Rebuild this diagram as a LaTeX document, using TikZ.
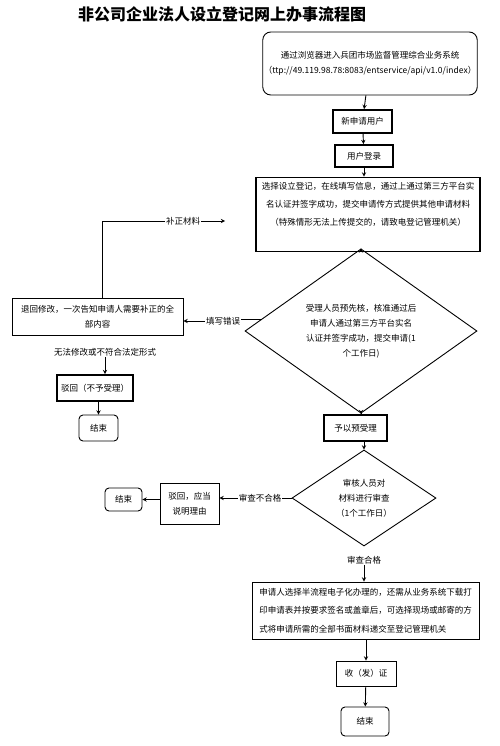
\documentclass[tikz,border=0pt]{standalone}
\usepackage{fontspec}
\setmainfont{Noto Sans CJK SC}
\usetikzlibrary{shapes.geometric,calc}
\tikzset{
    box/.style={draw,line width=0.9pt,align=center,inner sep=1pt,font=\fontsize{8.5}{15}\selectfont},
    thickbox/.style={box,line width=1.8pt},
    roundbox/.style={box,rounded corners=4pt},
    decision/.style={draw,diamond,line width=0.9pt,align=center,inner sep=0pt,font=\fontsize{8.5}{15}\selectfont},
    lbl/.style={inner sep=1pt,font=\fontsize{8.5}{15}\selectfont},
    flow/.style={line width=0.9pt,->,>=stealth}
}
\begin{document}
\begin{tikzpicture}[x=1pt,y=-1pt]
                \useasboundingbox (0,0) rectangle (500,746);
                \node[font=\fontsize{16}{16}\selectfont\bfseries] (title) at (222,14) {非公司企业法人设立登记网上办事流程图};
                % main column
                \node[box,rounded corners=8pt,minimum width=196pt,minimum height=63pt] (b1) at (370,63.5)
                    {通过浏览器进入兵团市场监督管理综合业务系统\\（ttp://49.119.98.78:8083/entservice/api/v1.0/index）};
                \node[thickbox,minimum width=59pt,minimum height=23pt] (b2) at (362.5,121.5) {新申请用户};
                \node[thickbox,minimum width=58pt,minimum height=22pt] (b3) at (364,156) {用户登录};
                \node[thickbox,minimum width=224pt,minimum height=74pt,font=\fontsize{8.5}{18}\selectfont] (b4) at (368,214.5)
                    {选择设立登记，在线填写信息，通过上通过第三方平台实\\名认证并签字成功，提交申请传方式提供其他申请材料\\（特殊情形无法上传提交的，请致电登记管理机关）\\[4pt]};
                \node[decision,minimum width=232pt,minimum height=142pt] (d1) at (361,331)
                    {受理人员预先核，核准通过后\\申请人通过第三方平台实名\\认证并签字成功，提交申请(1\\个工作日)};
                \node[thickbox,minimum width=63pt,minimum height=26pt] (ys) at (355.5,428) {予以预受理};
                \node[decision,minimum width=144pt,minimum height=96pt] (d2) at (364,498)
                    {审核人员对\\材料进行审查\\（1个工作日）};
                \node[lbl] (hg) at (364,560) {审查合格};
                \node[box,minimum width=227pt,minimum height=57pt,align=left,font=\fontsize{8.5}{18.5}\selectfont] (b5) at (365.5,610.5)
                    {申请人选择半流程电子化办理的，还需从业务系统下载打\\印申请表并按要求签名或盖章后，可选择现场或邮寄的方\\式将申请所需的全部书面材料递交至登记管理机关};
                \node[box,minimum width=60pt,minimum height=25pt] (fz) at (366,673.5) {收（发）证};
                \node[roundbox,minimum width=48pt,minimum height=29pt] (e3) at (365,721.5) {结束};
                % left branches
                \node[box,minimum width=171pt,minimum height=37pt] (lb) at (97.5,316.5)
                    {退回修改，一次告知申请人需要补正的全\\部内容};
                \node[lbl] (bz) at (183,221) {补正材料};
                \node[lbl] (tx) at (223,321) {填写错误};
                \node[lbl] (fx) at (105,352) {无法修改或不符合法定形式};
                \node[thickbox,minimum width=76pt,minimum height=26pt] (bh) at (95,388) {驳回（不予受理）};
                \node[roundbox,minimum width=39pt,minimum height=26pt] (e1) at (98.5,428) {结束};
                \node[lbl] (sb) at (260,498) {审查不合格};
                \node[box,minimum width=59pt,minimum height=41pt] (bo) at (189.5,503.5) {驳回，应当\\说明理由};
                \node[roundbox,minimum width=37pt,minimum height=23pt] (e2) at (123.5,499.5) {结束};
                \coordinate (c1) at ($(d1.west)!0.14!(d1.north)$);
                % connectors
                \draw[flow] (b1) -- (b2);
                \draw[flow] (b2) -- (b3);
                \draw[flow] (b3) -- (b4.north -| b3);
                \draw[flow] (b4.south -| d1.north) -- (d1.north);
                \draw[flow] (d1.south) -- (ys.north -| d1.south);
                \draw[flow] (ys.south -| d2.north) -- (d2.north);
                \draw[flow] (hg) -- (b5.north -| hg);
                \draw[flow] (b5.south -| fz) -- (fz);
                \draw[flow] (fz) -- (e3);
                \draw[line width=0.9pt] (c1) -- (c1 -| tx.east);
                \draw[flow] (tx.west) -- (tx.west -| lb.east);
                \draw[line width=0.9pt] (lb.north -| 102,0) |- (bz.west);
                \draw[flow,shorten >=30pt] (bz.east) -- (bz.east -| b4.west);
                \draw[flow] (fx) -- (bh.north -| fx);
                \draw[flow] (bh.south -| e1.north) -- (e1);
                \draw[line width=0.9pt] (d2.west) -- (sb.east);
                \draw[flow] (sb.west) -- (sb.west -| bo.east);
                \draw[flow] (bo.west |- e2) -- (e2);
            \end{tikzpicture}
\end{document}
